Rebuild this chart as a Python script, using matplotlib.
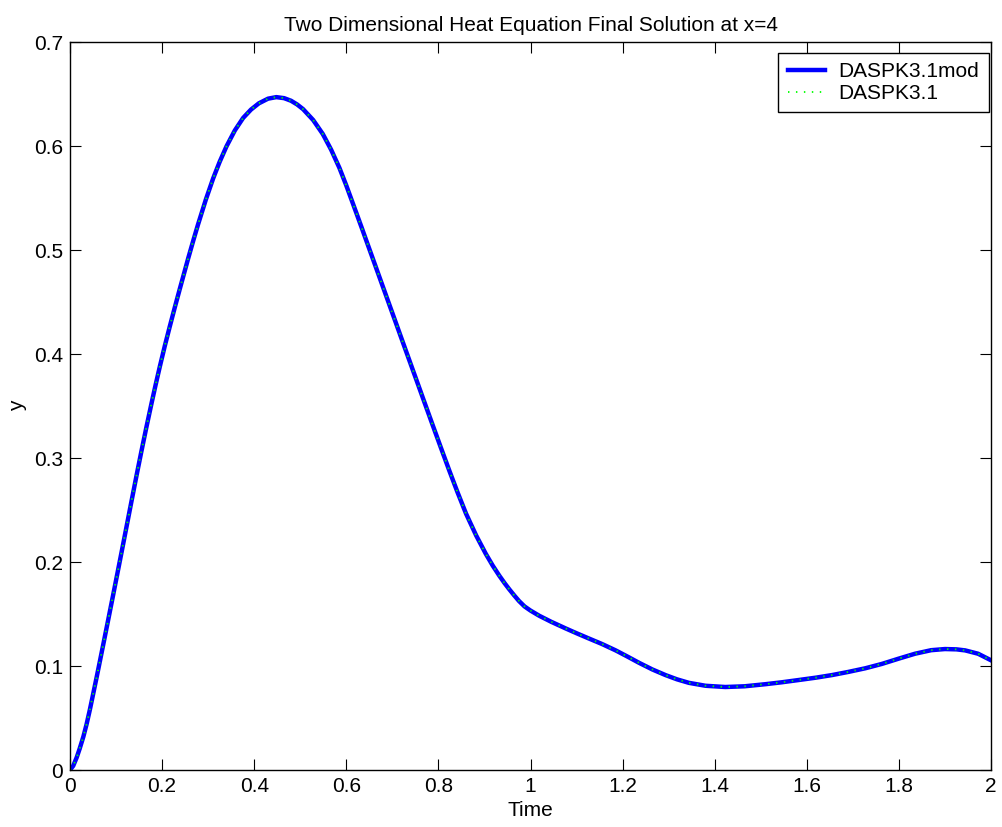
import matplotlib
matplotlib.use("Agg")
import matplotlib.pyplot as plt

plt.rcParams['font.family'] = ['Liberation Sans', 'DejaVu Sans']

time = [0.0, 0.007, 0.0145, 0.021, 0.029, 0.036, 0.043, 0.050, 0.058, 0.065,
        0.072, 0.083, 0.094, 0.103, 0.112, 0.123, 0.134, 0.145, 0.155, 0.166,
        0.177, 0.186, 0.195, 0.206, 0.217, 0.228, 0.239, 0.248, 0.257, 0.268,
        0.278, 0.295, 0.311, 0.325, 0.340, 0.358, 0.376, 0.393, 0.410, 0.430,
        0.448, 0.465, 0.480, 0.493, 0.506, 0.528, 0.549, 0.567, 0.585, 0.600,
        0.6215, 0.635, 0.647, 0.657, 0.675, 0.694, 0.712, 0.730, 0.7515, 0.770,
        0.7876, 0.806, 0.824, 0.842, 0.860, 0.882, 0.903, 0.918, 0.932, 0.944,
        0.954, 0.965, 0.975, 0.987, 1.0, 1.019, 1.045, 1.077, 1.100, 1.127,
        1.155, 1.185, 1.210, 1.236, 1.265, 1.293, 1.318, 1.344, 1.380, 1.423,
        1.465, 1.510, 1.545, 1.582, 1.620, 1.655, 1.690, 1.727, 1.763, 1.799,
        1.835, 1.870, 1.900, 1.925, 1.944, 1.972, 2.0]
y_mod = [0.0, 0.0040, 0.0120, 0.0205, 0.0320, 0.0440, 0.0577, 0.0725, 0.0895, 0.1048,
         0.1202, 0.1445, 0.1690, 0.1892, 0.2095, 0.2345, 0.2595, 0.2843, 0.3063, 0.3298,
         0.3525, 0.3705, 0.3878, 0.4080, 0.4270, 0.4455, 0.4635, 0.4780, 0.4925, 0.5095,
         0.5245, 0.5485, 0.5690, 0.5848, 0.5998, 0.6150, 0.6270, 0.6350, 0.6410, 0.6455,
         0.6470, 0.6460, 0.6435, 0.6400, 0.6355, 0.6250, 0.6115, 0.5965, 0.5790, 0.5620,
         0.5360, 0.5195, 0.5047, 0.4924, 0.4702, 0.4468, 0.4246, 0.4024, 0.3760, 0.3532,
         0.3316, 0.3092, 0.2875, 0.2665, 0.2465, 0.2255, 0.2078, 0.1965, 0.1870, 0.1795,
         0.1737, 0.1677, 0.1625, 0.1573, 0.1533, 0.1483, 0.1425, 0.1360, 0.1315, 0.1264,
         0.1212, 0.1150, 0.1092, 0.1030, 0.0966, 0.0913, 0.0872, 0.0838, 0.0810, 0.0798,
         0.0805, 0.0825, 0.0843, 0.0865, 0.0888, 0.0913, 0.0943, 0.0978, 0.1020, 0.1070,
         0.1118, 0.1152, 0.1163, 0.1160, 0.1150, 0.1118, 0.1055]
y_orig = list(y_mod)

fig = plt.figure(figsize=(10.02, 8.27), dpi=100)
ax = fig.add_axes([70/1002, 57/827, 921/1002, 728/827])

ax.plot(time, y_mod, color=(0, 0, 1), lw=3.2, label='DASPK3.1mod')
ax.plot(time, y_orig, color=(0, 1, 0), lw=1.3, linestyle=(0, (0.8, 3.6)),
        label='DASPK3.1')

ax.set_xlim(0, 2)
ax.set_ylim(0, 0.7)
ax.set_xticks([0, 0.2, 0.4, 0.6, 0.8, 1, 1.2, 1.4, 1.6, 1.8, 2])
ax.set_xticklabels(['0', '0.2', '0.4', '0.6', '0.8', '1', '1.2', '1.4', '1.6', '1.8', '2'])
ax.set_yticks([0, 0.1, 0.2, 0.3, 0.4, 0.5, 0.6, 0.7])
ax.set_yticklabels(['0', '0.1', '0.2', '0.3', '0.4', '0.5', '0.6', '0.7'])
ax.tick_params(direction='in', length=8, width=0.8, top=True, right=True,
               labelsize=15, pad=5)
for s in ax.spines.values():
    s.set_linewidth(1.0)

ax.set_title('Two Dimensional Heat Equation Final Solution at x=4', fontsize=15, pad=8)
ax.set_xlabel('Time', fontsize=15, labelpad=4)
ax.set_ylabel('y', fontsize=15, labelpad=5)

leg = ax.legend(loc='upper right', bbox_to_anchor=(0.9975, 0.985), fontsize=15,
                fancybox=False, framealpha=1, edgecolor='black', borderaxespad=0,
                handlelength=1.8, handletextpad=0.65, borderpad=0.45,
                labelspacing=0.12)
leg.get_frame().set_linewidth(1.0)

fig.savefig('out.png', dpi=100)
